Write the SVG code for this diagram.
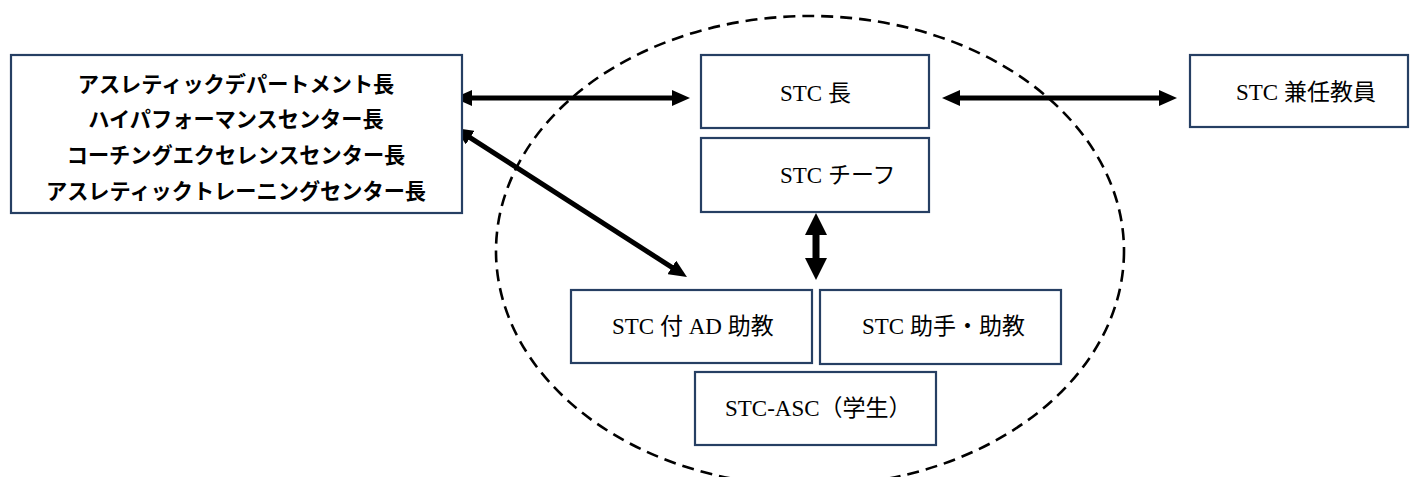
<svg xmlns="http://www.w3.org/2000/svg" width="1410" height="477" viewBox="0 0 1410 477">
  <defs>
    <style>
      .box { fill: #ffffff; stroke: #263f63; stroke-width: 2.2; }
      .lbl { font-family: "Liberation Serif", "Noto Sans CJK JP", serif; font-size: 23px; fill: #000000; }
      .lead { font-family: "Liberation Serif", "Noto Sans CJK JP", serif; font-size: 21.2px; font-weight: bold; fill: #000000; text-anchor: middle; }
      .arrow { stroke: #000000; stroke-width: 5; fill: none; }
      .arrow-thick { stroke: #000000; stroke-width: 7; fill: none; }
      .zone { fill: none; stroke: #000000; stroke-width: 2.6; stroke-dasharray: 12 7; }
    </style>
    <marker id="head" markerUnits="userSpaceOnUse" markerWidth="18" markerHeight="16" refX="2" refY="8" orient="auto-start-reverse">
      <path d="M0,0 L18,8 L0,16 Z" fill="#000000"/>
    </marker>
    <marker id="head-big" markerUnits="userSpaceOnUse" markerWidth="22" markerHeight="22" refX="2" refY="11" orient="auto-start-reverse">
      <path d="M0,0 L22,11 L0,22 Z" fill="#000000"/>
    </marker>
  </defs>

  <rect width="1410" height="477" fill="#ffffff"/>

  <!-- STC boundary -->
  <ellipse class="zone" cx="810" cy="251" rx="314" ry="235"/>

  <!-- connectors -->
  <g id="connectors">
    <line class="arrow" x1="470" y1="98" x2="674" y2="98" marker-start="url(#head)" marker-end="url(#head)"/>
    <line class="arrow" x1="958" y1="98" x2="1161" y2="98" marker-start="url(#head)" marker-end="url(#head)"/>
    <line class="arrow" x1="468.5" y1="136.6" x2="673.5" y2="268.4" marker-start="url(#head)" marker-end="url(#head)"/>
    <line class="arrow-thick" x1="816" y1="233" x2="816" y2="260" marker-start="url(#head-big)" marker-end="url(#head-big)"/>
  </g>

  <!-- department heads -->
  <g id="node-heads">
    <rect class="box" x="11" y="55" width="451" height="158"/>
    <text class="lead" x="236" y="92">アスレティックデパートメント長</text>
    <text class="lead" x="236" y="127">ハイパフォーマンスセンター長</text>
    <text class="lead" x="236" y="163">コーチングエクセレンスセンター長</text>
    <text class="lead" x="236" y="199">アスレティックトレーニングセンター長</text>
  </g>

  <g id="node-stc-head">
    <rect class="box" x="701" y="55" width="228" height="73"/>
    <text class="lbl" x="780" y="101">STC 長</text>
  </g>

  <g id="node-stc-chief">
    <rect class="box" x="701" y="138" width="228" height="74"/>
    <text class="lbl" x="780" y="183">STC チーフ</text>
  </g>

  <g id="node-stc-adjunct">
    <rect class="box" x="1190" y="55" width="218" height="72"/>
    <text class="lbl" x="1236" y="100">STC 兼任教員</text>
  </g>

  <g id="node-stc-ad">
    <rect class="box" x="571" y="290" width="241" height="73"/>
    <text class="lbl" x="612" y="334">STC 付 AD 助教</text>
  </g>

  <g id="node-stc-assistant">
    <rect class="box" x="820" y="290" width="241" height="74"/>
    <text class="lbl" x="862" y="334">STC 助手・助教</text>
  </g>

  <g id="node-stc-asc">
    <rect class="box" x="695" y="372" width="241" height="73"/>
    <text class="lbl" x="725" y="416">STC-ASC（学生）</text>
  </g>
</svg>
